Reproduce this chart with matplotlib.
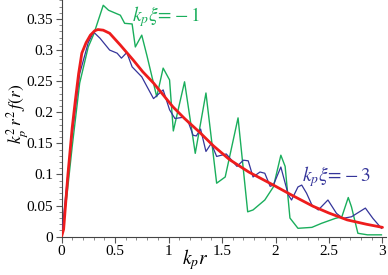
import numpy as np
import matplotlib
matplotlib.use("Agg")
import matplotlib.pyplot as plt
from matplotlib.ticker import MultipleLocator

# ── Data ──────────────────────────────────────────────────────────────────────
red_x = [0, 0.02, 0.06, 0.1, 0.13, 0.16, 0.19, 0.23, 0.27, 0.31, 0.34, 0.39, 0.45,
         0.55, 0.67, 0.76, 0.86, 0.95, 1.04, 1.15, 1.29, 1.42, 1.57, 1.75, 1.98,
         2.15, 2.35, 2.5, 2.67, 2.85, 3.0]
red_y = [0, 0.012, 0.10, 0.175, 0.22, 0.262, 0.295, 0.312, 0.324, 0.331, 0.333, 0.332, 0.327,
         0.308, 0.284, 0.265, 0.247, 0.228, 0.209, 0.19, 0.168, 0.146, 0.124, 0.104, 0.083,
         0.067, 0.049, 0.038, 0.027, 0.020, 0.015]

green_x = [0, 0.05, 0.1, 0.17, 0.25, 0.30, 0.39, 0.44, 0.55, 0.59, 0.66, 0.69, 0.75,
           0.80, 0.89, 0.95, 1.01, 1.045, 1.15, 1.25, 1.35, 1.45, 1.53, 1.65, 1.74,
           1.79, 1.90, 1.98, 2.05, 2.09, 2.135, 2.21, 2.34, 2.43, 2.56, 2.62, 2.68,
           2.71, 2.77, 2.86, 2.99]
green_y = [0, 0.065, 0.145, 0.247, 0.305, 0.325, 0.372, 0.364, 0.356, 0.343, 0.342, 0.305, 0.324,
           0.29, 0.225, 0.271, 0.252, 0.170, 0.249, 0.134, 0.231, 0.086, 0.096, 0.191, 0.040,
           0.043, 0.059, 0.080, 0.131, 0.113, 0.030, 0.0135, 0.015, 0.0215, 0.0295, 0.032, 0.063,
           0.048, 0.0055, 0.003, 0.003]

blue_x = [0, 0.05, 0.1, 0.17, 0.25, 0.30, 0.36, 0.45, 0.52, 0.56, 0.61, 0.66, 0.75,
          0.80, 0.86, 0.95, 1.01, 1.06, 1.14, 1.19, 1.23, 1.26, 1.30, 1.35, 1.40,
          1.45, 1.54, 1.64, 1.70, 1.745, 1.79, 1.855, 1.90, 1.95, 1.98, 2.05, 2.12,
          2.15, 2.21, 2.245, 2.29, 2.34, 2.40, 2.49, 2.57, 2.63, 2.71, 2.84, 2.91, 2.99]
blue_y = [0, 0.085, 0.165, 0.262, 0.312, 0.329, 0.319, 0.30, 0.295, 0.287, 0.296, 0.273, 0.257,
          0.241, 0.222, 0.236, 0.204, 0.19, 0.192, 0.182, 0.163, 0.162, 0.173, 0.137, 0.15,
          0.129, 0.133, 0.113, 0.123, 0.122, 0.096, 0.104, 0.102, 0.081, 0.083, 0.112, 0.067,
          0.059, 0.08, 0.083, 0.07, 0.051, 0.043, 0.059, 0.0375, 0.0295, 0.032, 0.046, 0.0295, 0.0135]

GREEN = "#1aae5c"
BLUE  = "#35359a"
RED   = "#ee1c1c"

# ── Style ─────────────────────────────────────────────────────────────────────
plt.rcParams["font.family"] = ["Liberation Serif", "DejaVu Serif"]
plt.rcParams["mathtext.fontset"] = "stix"

fig = plt.figure(figsize=(3.88, 2.75), dpi=100)
ax = fig.add_axes([61.5 / 388, 38.3 / 275, 3.03 * 107 / 388, 236.7 / 275])

ax.plot(green_x, green_y, color=GREEN, lw=1.0, zorder=2)
ax.plot(blue_x, blue_y, color=BLUE, lw=0.9, zorder=3)
ax.plot(red_x, red_y, color=RED, lw=2.0, zorder=4, solid_capstyle="round")

ax.text(0.655, 0.354, r"$k_p\xi\!=\!-1$", color=GREEN, fontsize=14, va="center")
ax.text(2.245, 0.0965, r"$k_p\xi\!=\!-3$", color=BLUE, fontsize=14, va="center")

ax.set_xlim(0, 3.03)
ax.set_ylim(0, 0.3805)

for s in ("top", "right"):
    ax.spines[s].set_visible(False)
for s in ("left", "bottom"):
    ax.spines[s].set_color("#444444")
    ax.spines[s].set_linewidth(0.8)

ax.xaxis.set_major_locator(MultipleLocator(0.5))
ax.xaxis.set_minor_locator(MultipleLocator(0.1))
ax.yaxis.set_major_locator(MultipleLocator(0.05))
ax.yaxis.set_minor_locator(MultipleLocator(0.01))
ax.xaxis.set_major_formatter(plt.FuncFormatter(lambda v, p: f"{v:g}"))
ax.yaxis.set_major_formatter(plt.FuncFormatter(lambda v, p: f"{v:g}"))
ax.tick_params(which="major", length=4, width=0.8, color="#555555", labelsize=11, pad=2)
ax.tick_params(which="minor", length=2.5, width=0.6, color="#777777")

ax.set_xlabel(r"$k_p r$", fontsize=14)
ax.xaxis.set_label_coords((195 - 61.5) / (3.03 * 107), -0.045)
ax.set_ylabel(r"$k_p^2\, r^2\, f(r)$", fontsize=12.5)
ax.yaxis.set_label_coords(-0.098, 0.52)

fig.savefig("out.png", dpi=100)
